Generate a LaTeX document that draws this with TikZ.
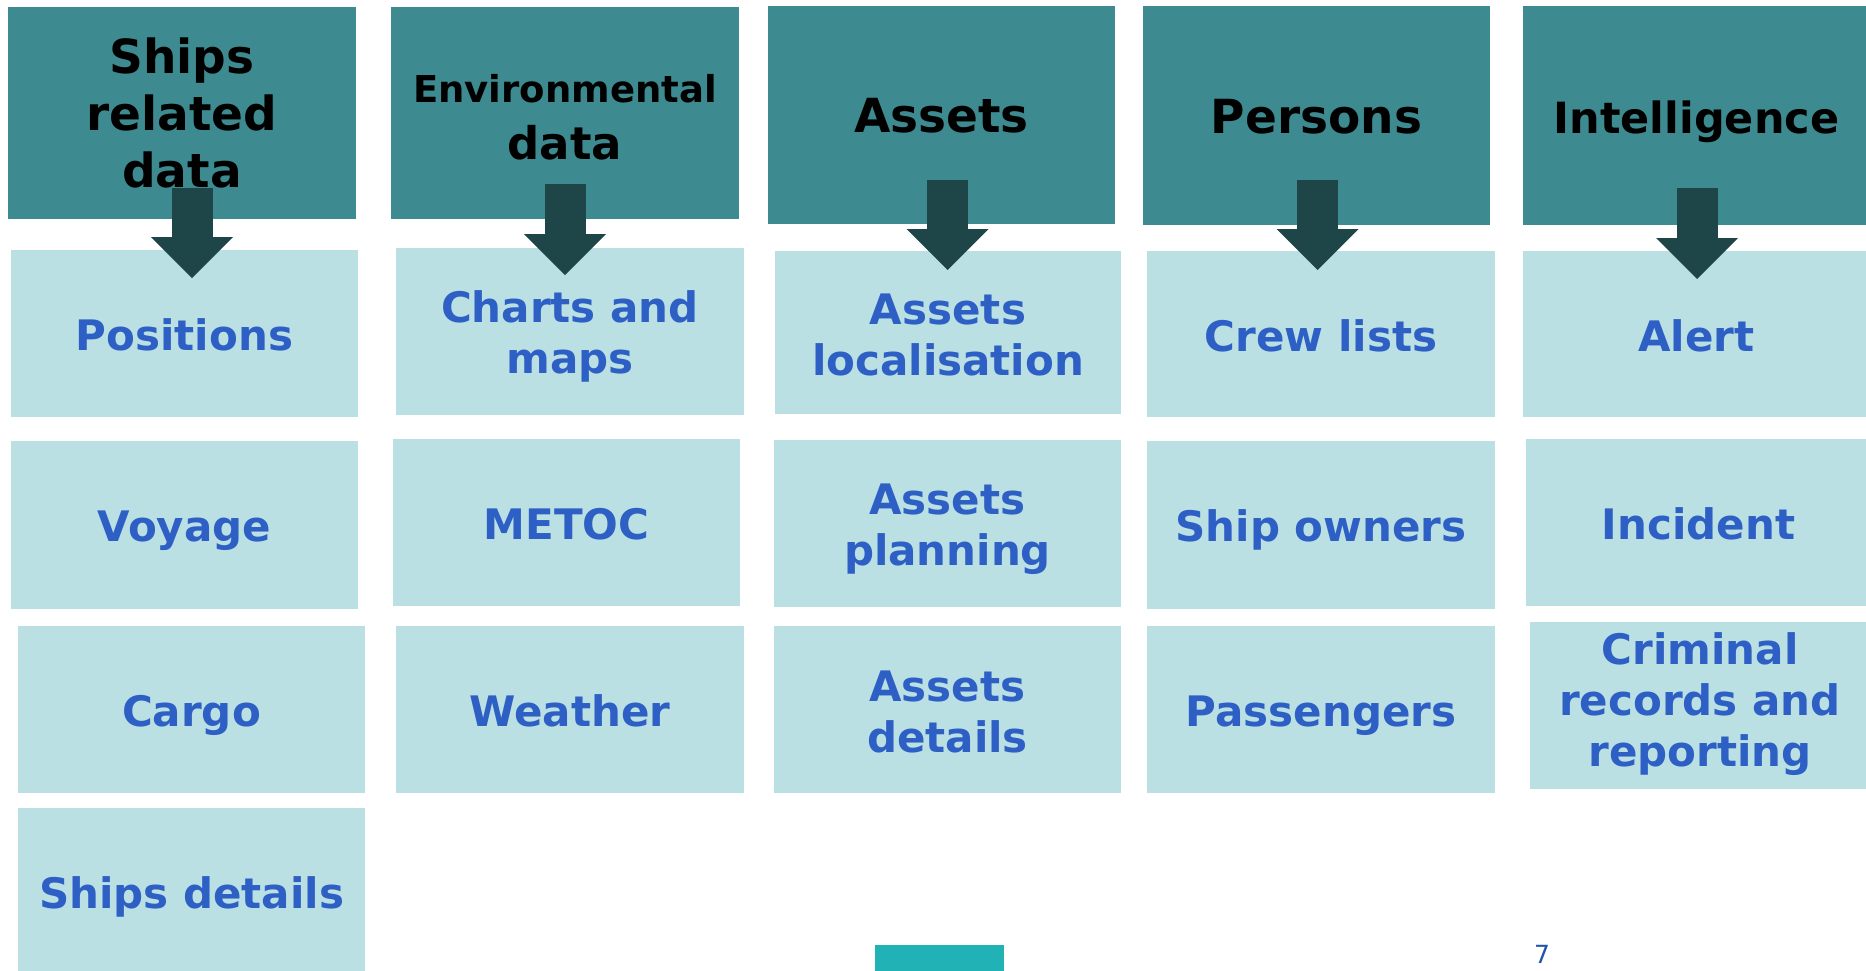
\documentclass[tikz,border=0pt]{standalone}
\usepackage{fontspec}
\setmainfont{DejaVu Sans}
\usetikzlibrary{arrows.meta}
\definecolor{hdrc}{HTML}{3D8B91}
\definecolor{lightc}{HTML}{BAE0E3}
\definecolor{bluec}{HTML}{2D5FC5}
\definecolor{arrc}{HTML}{1E4548}
\definecolor{barc}{HTML}{20B2B5}
\definecolor{numc}{HTML}{1F56A8}
\newcommand{\bl}{\rule[-8.5pt]{0pt}{51pt}}
\newcommand{\blup}{\rule[-16pt]{0pt}{51pt}}
\newcommand{\hl}{\rule[-11pt]{0pt}{57pt}}
\tikzset{
  hdr/.style={fill=hdrc, inner sep=0pt, text=black, align=center,
    font=\fontsize{47}{57}\selectfont\bfseries},
  item/.style={fill=lightc, inner sep=0pt, text=bluec, align=center,
    font=\fontsize{42}{51}\selectfont\bfseries},
  arr/.style={draw=arrc, line width=41pt,
    -{Triangle[width=82pt,length=41pt,line width=0pt]}},
}
\begin{document}
\begin{tikzpicture}[x=1pt,y=-1pt]
\useasboundingbox (0,0) rectangle (1866,970);
\clip (0,0) rectangle (1866,970);
% headers
\node[hdr, minimum width=348pt, minimum height=212pt] (h1) at (182,113) {\hl Ships\\\hl related\\\hl data};
\node[hdr, minimum width=348pt, minimum height=212pt] (h2) at (565,113) {\hl{\fontsize{37}{57}\selectfont Environmental}\\\hl{\fontsize{45}{57}\selectfont data}};
\node[hdr, minimum width=347pt, minimum height=218pt] (h3) at (941.5,115) {\hl Assets};
\node[hdr, minimum width=347pt, minimum height=219pt] (h4) at (1316.5,115.5) {\hl Persons};
\node[hdr, minimum width=347pt, minimum height=219pt] (h5) at (1696.5,115.5) {\hl{\fontsize{43}{57}\selectfont Intelligence}};
% row 1
\node[item, minimum width=347pt, minimum height=167pt] (r1c1) at (184.5,333.5) {\bl Positions};
\node[item, minimum width=348pt, minimum height=167pt] (r1c2) at (570,331.5) {\bl Charts and\\\bl maps};
\node[item, minimum width=346pt, minimum height=163pt] (r1c3) at (948,332.5) {\bl Assets\\\bl localisation};
\node[item, minimum width=348pt, minimum height=166pt] (r1c4) at (1321,334) {\bl Crew lists};
\node[item, minimum width=347pt, minimum height=166pt] (r1c5) at (1696.5,334) {\bl Alert};
% row 2
\node[item, minimum width=347pt, minimum height=168pt] (r2c1) at (184.5,525) {\bl Voyage};
\node[item, minimum width=347pt, minimum height=167pt] (r2c2) at (566.5,522.5) {\bl METOC};
\node[item, minimum width=347pt, minimum height=167pt] (r2c3) at (947.5,523.5) {\bl Assets\\\bl planning};
\node[item, minimum width=348pt, minimum height=168pt] (r2c4) at (1321,525) {\bl Ship owners};
\node[item, minimum width=345pt, minimum height=167pt] (r2c5) at (1698.5,522.5) {\bl Incident};
% row 3
\node[item, minimum width=347pt, minimum height=167pt] (r3c1) at (191.5,709.5) {\bl Cargo};
\node[item, minimum width=348pt, minimum height=167pt] (r3c2) at (570,709.5) {\bl Weather};
\node[item, minimum width=347pt, minimum height=167pt] (r3c3) at (947.5,709.5) {\bl Assets\\\bl details};
\node[item, minimum width=348pt, minimum height=167pt] (r3c4) at (1321,709.5) {\bl Passengers};
\node[item, minimum width=340pt, minimum height=167pt] (r3c5) at (1700,705.5) {\blup Criminal\\\blup records and\\\blup reporting};
% row 4
\node[item, minimum width=347pt, minimum height=167pt] (r4c1) at (191.5,891.5) {\bl Ships details};
% arrows
\coordinate (s1) at (192,188);  \coordinate (e1) at (192,278);
\coordinate (s2) at (565,184);  \coordinate (e2) at (565,275);
\coordinate (s3) at (947.5,180); \coordinate (e3) at (947.5,270);
\coordinate (s4) at (1317.5,180); \coordinate (e4) at (1317.5,270);
\coordinate (s5) at (1697,188); \coordinate (e5) at (1697,279);
\draw[arr] (s1) -- (e1);
\draw[arr] (s2) -- (e2);
\draw[arr] (s3) -- (e3);
\draw[arr] (s4) -- (e4);
\draw[arr] (s5) -- (e5);
% footer
\node[fill=barc, inner sep=0pt, minimum width=129pt, minimum height=30pt] (bar) at (939.5,960) {};
\node[inner sep=0pt, text=numc, font=\fontsize{25}{30}\selectfont] (pg) at (1542,954) {7};
\end{tikzpicture}
\end{document}
